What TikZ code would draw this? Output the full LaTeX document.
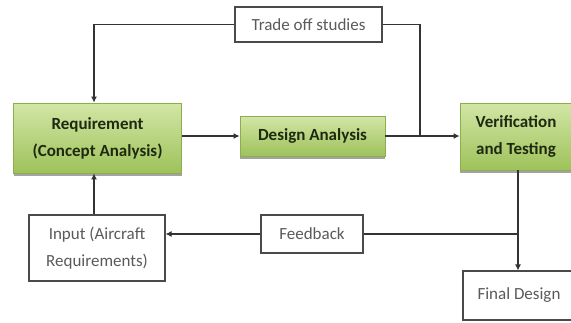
\documentclass[tikz,border=0pt]{standalone}
\usepackage{fontspec}
\setmainfont{Carlito}
\usetikzlibrary{arrows.meta,shadows,calc}
\definecolor{greentop}{HTML}{D2E6A6}
\definecolor{greenbot}{HTML}{9EC25A}
\definecolor{greenedge}{HTML}{8DAE4E}
\definecolor{greentext}{HTML}{1E2A10}
\definecolor{graytext}{HTML}{5A5A5A}
\definecolor{grayedge}{HTML}{4A4A4A}
\definecolor{linecol}{HTML}{333333}
\tikzset{
  greenbox/.style={draw=greenedge, line width=0.8pt, top color=greentop, bottom color=greenbot,
    drop shadow={shadow xshift=0pt, shadow yshift=-2.5pt, fill=black!45, opacity=0.8},
    font=\fontsize{17}{27}\selectfont\bfseries, text=greentext, align=center, inner sep=0pt},
  whitebox/.style={draw=grayedge, line width=1.1pt, fill=white, font=\fontsize{17}{27}\selectfont,
    text=graytext, align=center, inner sep=0pt},
  conn/.style={draw=linecol, line width=1.1pt},
  arr/.style={conn, -{Latex[length=6pt,width=6pt]}}
}
\begin{document}
\begin{tikzpicture}[x=1pt,y=-1pt]
\useasboundingbox (0,0) rectangle (571,322);
\clip (0,0) rectangle (571,322);
\fill[white] (0,0) rectangle (571,322);
\node[whitebox, minimum width=147pt, minimum height=35pt] (trade) at (308.5,24.5) {Trade off studies};
\node[greenbox, minimum width=168pt, minimum height=70pt] (req) at (97.5,138) {Requirement\\(Concept Analysis)};
\node[greenbox, minimum width=145pt, minimum height=40pt] (design) at (312.5,136) {Design Analysis};
\node[greenbox, minimum width=112pt, minimum height=67pt] (verif) at (516,136.5) {Verification\\and Testing};
\node[whitebox, minimum width=136pt, minimum height=66pt] (input) at (97,248) {Input (Aircraft\\Requirements)};
\node[whitebox, minimum width=102pt, minimum height=38pt] (feedback) at (312,234) {Feedback};
\node[whitebox, minimum width=112pt, minimum height=49pt] (final) at (519,295.5) {Final Design};
\coordinate (j) at (420,136);
\coordinate (k) at (518,234);
\draw[arr] (trade.west) -| ($(req.north)+(-3.5,0)$);
\draw[arr] (req.east |- design.west) -- (design.west);
\draw[arr] (design.east) -- (verif.west |- design.east);
\draw[conn] (trade.east) -| (j);
\draw[arr] (verif.south -| k) -- (final.north -| k);
\draw[conn] (k) -- (feedback.east);
\draw[arr] (feedback.west) -- (feedback.west -| input.east);
\draw[arr] ($(input.north)+(-3,0)$) -- ($(req.south)+(-3.5,0)$);
\end{tikzpicture}
\end{document}
